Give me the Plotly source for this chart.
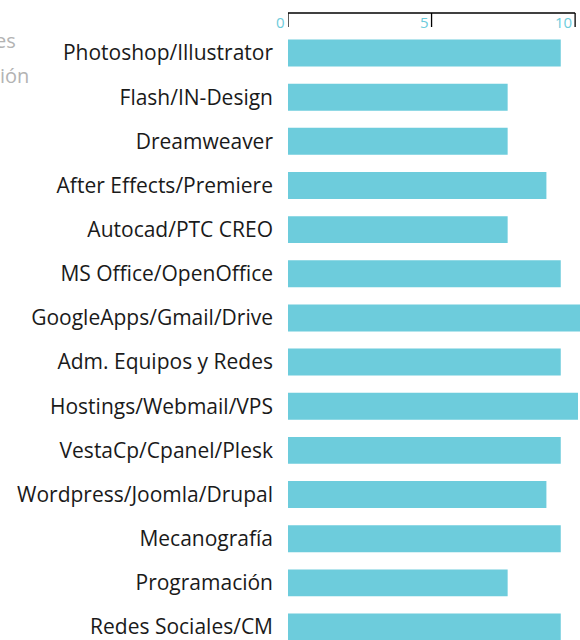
import plotly.graph_objects as go

categories = [
    "Photoshop/Illustrator",
    "Flash/IN-Design",
    "Dreamweaver",
    "After Effects/Premiere",
    "Autocad/PTC CREO",
    "MS Office/OpenOffice",
    "GoogleApps/Gmail/Drive",
    "Adm. Equipos y Redes",
    "Hostings/Webmail/VPS",
    "VestaCp/Cpanel/Plesk",
    "Wordpress/Joomla/Drupal",
    "Mecanografía",
    "Programación",
    "Redes Sociales/CM",
]
values = [9.5, 7.65, 7.65, 9.0, 7.65, 9.5, 10.3, 9.5, 10.1, 9.5, 9.0, 9.5, 7.65, 9.5]
tick_vals = [0, 5, 10]
tick_text = ["0", "5", "10"]
side_texts = ["es", "ión"]

BAR = "#6dccdc"
W, H = 580, 640
ML, MT = 288, 13
PW, PH = W - ML, H - MT

fig = go.Figure(
    go.Bar(
        x=values,
        y=categories,
        orientation="h",
        marker=dict(color=BAR, line=dict(width=0)),
        hoverinfo="skip",
    )
)

fig.update_layout(
    width=W,
    height=H,
    margin=dict(l=ML, r=0, t=MT, b=0, pad=0),
    paper_bgcolor="white",
    plot_bgcolor="white",
    bargap=0.39,
    showlegend=False,
    font=dict(family="Open Sans", color="#1a1a1a"),
    xaxis=dict(
        side="top",
        range=[0, 10.17],
        showticklabels=False,
        ticks="",
        showline=False,
        showgrid=False,
        zeroline=False,
        fixedrange=True,
    ),
    yaxis=dict(
        type="category",
        range=[13.294, -0.906],
        tickfont=dict(family="Open Sans", size=21, color="#1a1a1a"),
        ticks="",
        ticklabelstandoff=14,
        showline=False,
        showgrid=False,
        zeroline=False,
        fixedrange=True,
    ),
)

# top axis line from 0 to 10
fig.add_shape(
    type="line", xref="x", yref="paper",
    x0=tick_vals[0], x1=tick_vals[-1], y0=1, y1=1,
    line=dict(color="black", width=1.5),
)

tick_bottom = 1 - (27 - MT) / PH
for v, t in zip(tick_vals, tick_text):
    # tick mark hanging down from the axis line
    fig.add_shape(
        type="line", xref="x", yref="paper",
        x0=v, x1=v, y0=1, y1=tick_bottom,
        line=dict(color="black", width=1.3),
    )
    # tick label left of the tick, below the axis line
    fig.add_annotation(
        text=t, xref="x", yref="paper", x=v, y=1 - (21.5 - MT) / PH,
        xanchor="right", yanchor="middle", xshift=-1, showarrow=False,
        font=dict(family="Open Sans", size=15, color=BAR),
    )

# faded, partially hidden text at far left
for txt, px_r, px_y in zip(side_texts, [18, 31], [40, 76]):
    fig.add_annotation(
        text=txt, xref="paper", yref="paper",
        x=(px_r - ML) / PW, y=1 - (px_y - MT) / PH,
        xanchor="right", yanchor="middle", showarrow=False,
        font=dict(family="Open Sans", size=20, color="#b3b3b3"),
    )

fig.write_html(
    "out.html",
    config={"displayModeBar": False},
    post_script="document.body.style.margin='0';document.body.style.padding='0';",
)
